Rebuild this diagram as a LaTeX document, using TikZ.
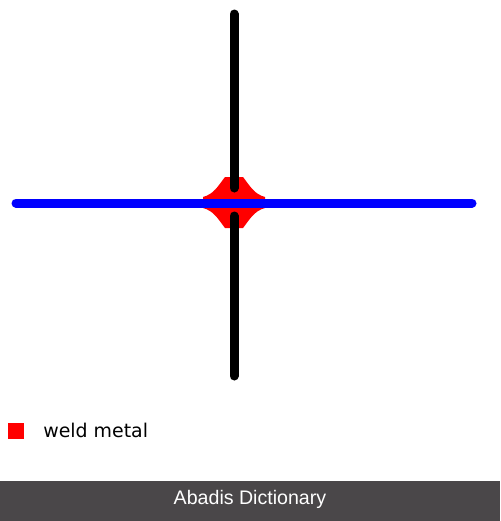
\documentclass[tikz,border=0pt]{standalone}
\usepackage{fontspec}
\setmainfont{Liberation Sans}
\newfontfamily\legendfont{DejaVu Sans}
\definecolor{barcol}{HTML}{4A4749}
\definecolor{weldred}{HTML}{FF0000}
\definecolor{memblue}{HTML}{0000FF}
\begin{document}
\begin{tikzpicture}[x=0.75pt,y=-0.75pt,
  member/.style={line width=6.75pt,line cap=round},
  legendtext/.style={anchor=west,inner sep=0pt,font=\legendfont\fontsize{14.2pt}{16pt}\selectfont},
  footertext/.style={text=white,inner sep=0pt,font=\fontsize{14.7pt}{17pt}\selectfont}]
\useasboundingbox (0,0) rectangle (500,521);
\fill[white] (0,0) rectangle (500,521);
% weld metal
\fill[weldred] (225,177) -- (243,177)
  .. controls (250,186) and (254,194) .. (265,197) -- (265,208)
  .. controls (254,211) and (250,219) .. (243,228) -- (225,228)
  .. controls (218,219) and (214,211) .. (203,208) -- (203,197)
  .. controls (214,194) and (218,186) .. (225,177) -- cycle;
% vertical black member (broken at the joint)
\draw[member,black] (234,14) -- (234,188);
\draw[member,black] (234,216) -- (234,376);
% horizontal blue member
\draw[member,memblue] (16,203) -- (472,203);
% legend
\fill[weldred] (8,423) rectangle (24,439);
\node[legendtext] (lbl) at (43,430) {weld metal};
% footer
\fill[barcol] (0,481) rectangle (500,521);
\node[footertext] (foot) at (250,499) {Abadis Dictionary};
\end{tikzpicture}
\end{document}
